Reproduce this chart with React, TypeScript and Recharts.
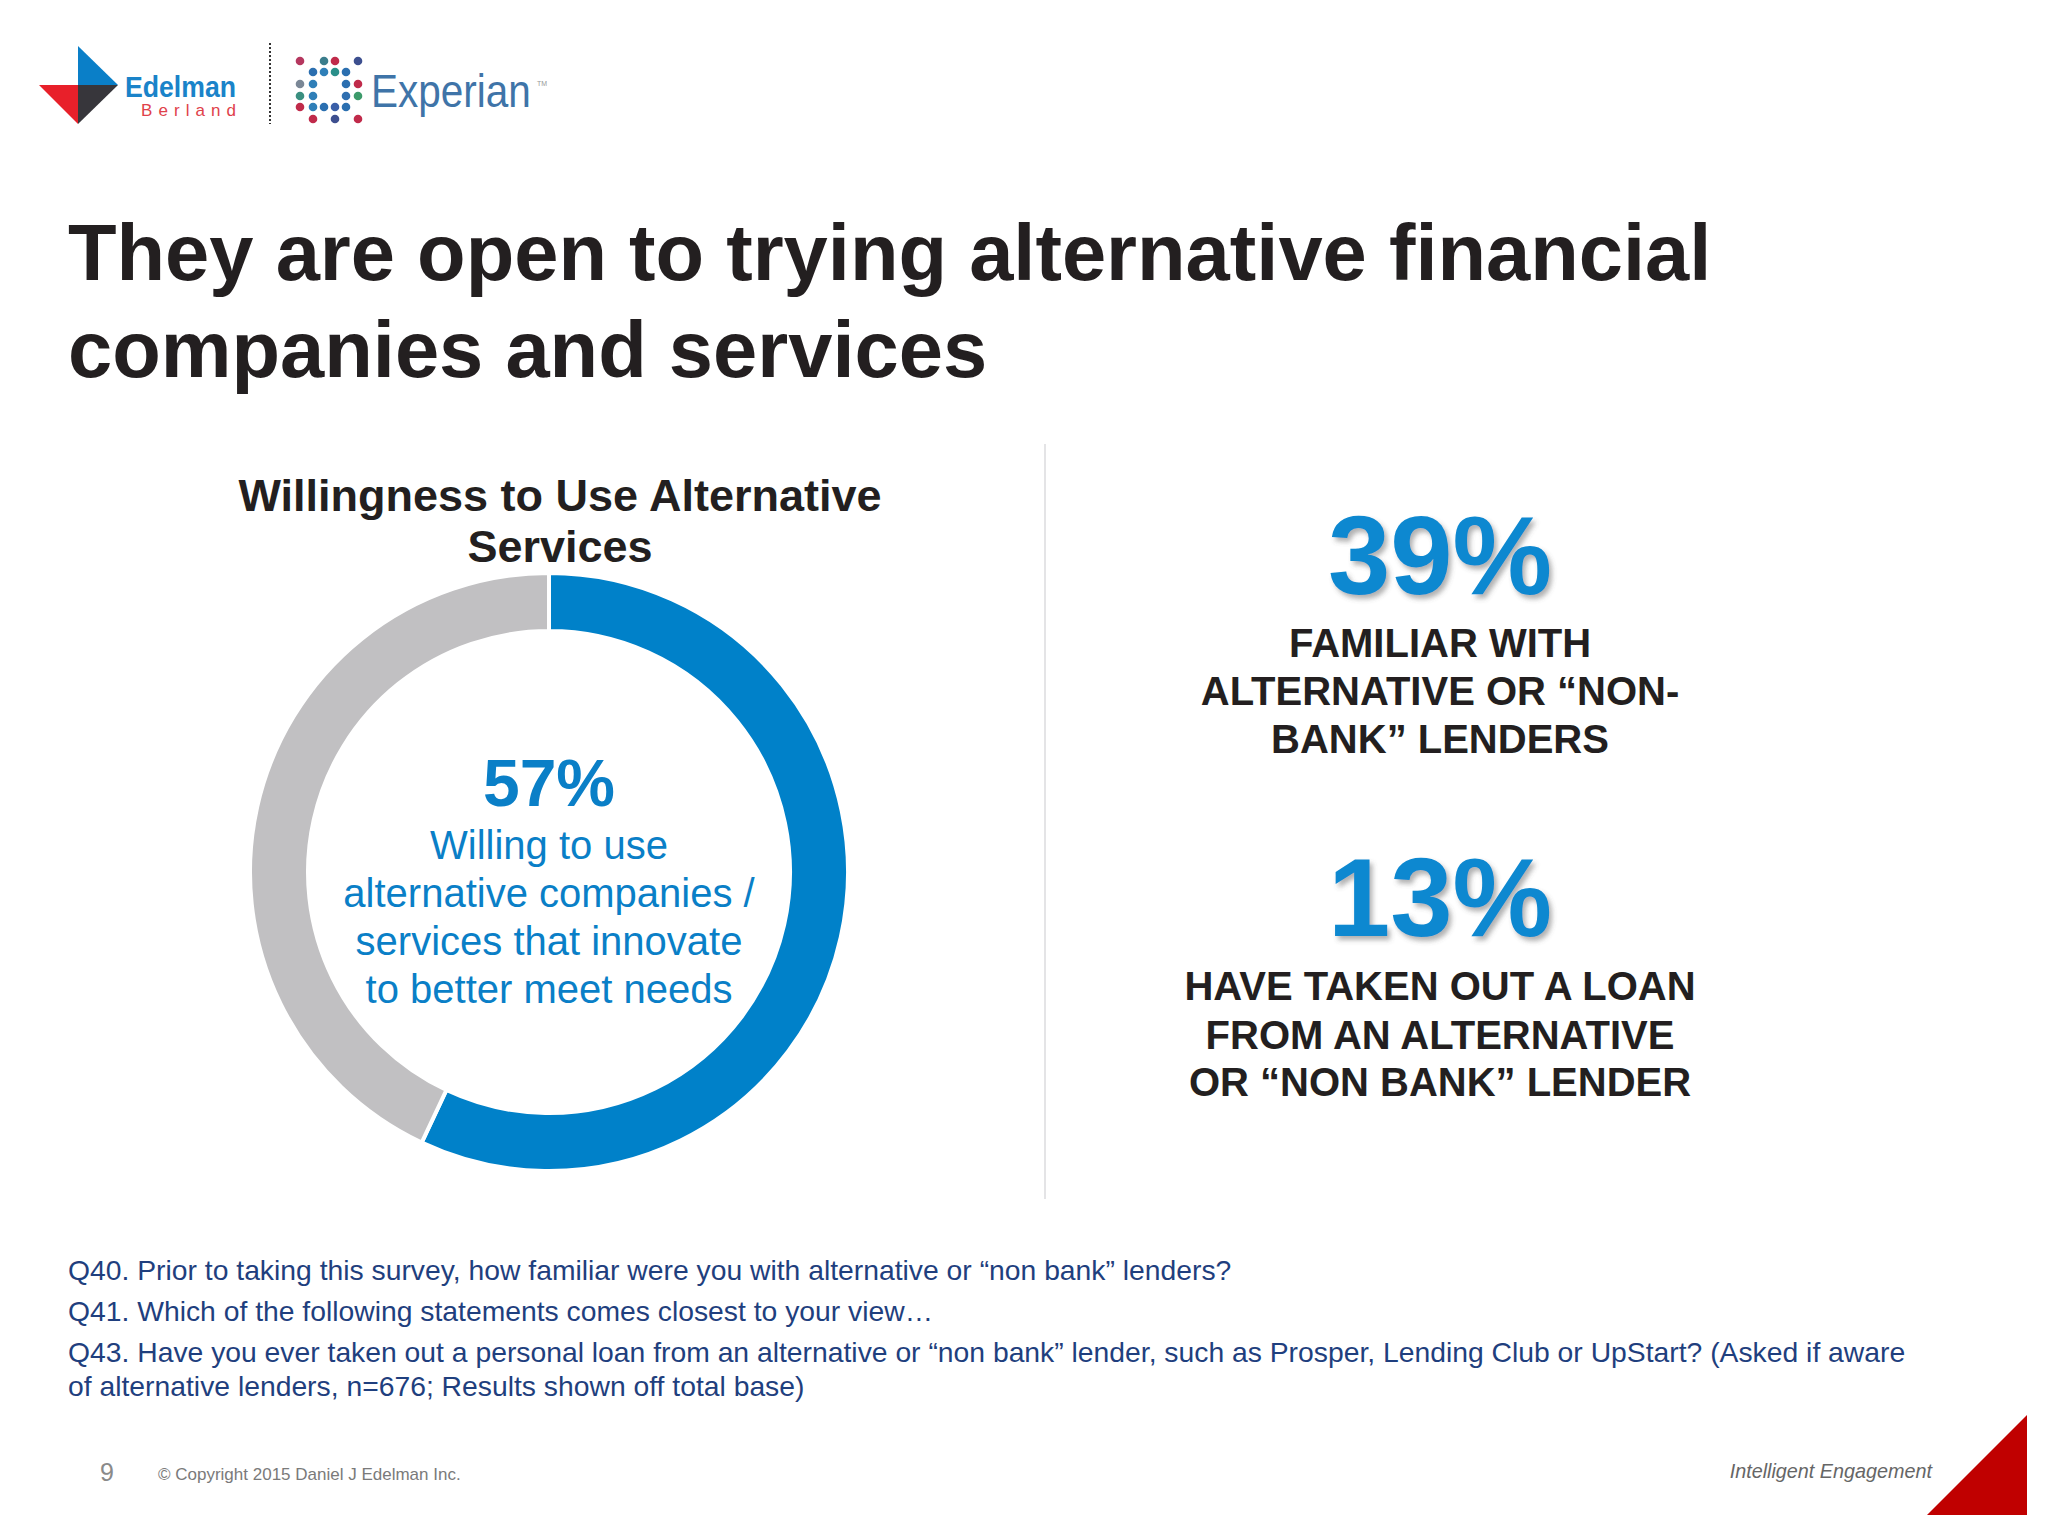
import React from 'react';
import { PieChart, Pie, Cell } from 'recharts';

// ---- data ----
const segmentNames = ['Willing to use alternative services', 'Not willing'];
const segmentValues = [57, 43];
const segmentColors = ['#0081c9', '#c1c0c2'];

const centerValue = '57%';
const centerLines = ['Willing to use', 'alternative companies /', 'services that innovate', 'to better meet needs'];

const statValues = ['39%', '13%'];
const statLines = [
  ['FAMILIAR WITH', 'ALTERNATIVE OR \u201CNON-', 'BANK\u201D LENDERS'],
  ['HAVE TAKEN OUT A LOAN', 'FROM AN ALTERNATIVE', 'OR \u201CNON BANK\u201D LENDER'],
];

const titleLines = ['They are open to trying alternative financial', 'companies and services'];
const chartTitleLines = ['Willingness to Use Alternative', 'Services'];
const footnotes = [
  'Q40. Prior to taking this survey, how familiar were you with alternative or \u201Cnon bank\u201D lenders?',
  'Q41. Which of the following statements comes closest to your view\u2026',
  'Q43. Have you ever taken out a personal loan from an alternative or \u201Cnon bank\u201D lender, such as Prosper, Lending Club or UpStart? (Asked if aware',
  'of alternative lenders, n=676; Results shown off total base)',
];

const pieData = segmentNames.map((name, i) => ({ name, value: segmentValues[i] }));

const FONT = '"Liberation Sans", Arial, Helvetica, sans-serif';

const dotRows: [number, string][][] = [
  [[0, '#b5375f'], [2, '#3a7d8c'], [3, '#c02a4a'], [5, '#3d4f8f']],
  [[1, '#2b6fb0'], [2, '#2f7fb8'], [3, '#2a8f8a'], [4, '#2b6fb0']],
  [[0, '#7a8796'], [1, '#2f7fb8'], [4, '#2b6fb0'], [5, '#c02a4a']],
  [[0, '#3a8f80'], [1, '#2f7fb8'], [4, '#2f6fb0'], [5, '#3c9a6a']],
  [[0, '#c02a4a'], [1, '#2f7fb8'], [2, '#2b6fb0'], [3, '#3a5fa8'], [4, '#2b6fb0']],
  [[1, '#c02a4a'], [3, '#3d4f8f'], [5, '#c02a4a']],
];
const dotCols = [300, 313, 324, 335, 346, 358];
const dotRowY = [61, 72, 84, 96, 107, 119];

const statValueY = [594, 936];
const statLineY = [[657, 705, 753], [1000, 1049, 1096]];
const footnoteY = [1280, 1321, 1362, 1396];

export default function App() {
  return (
    <div style={{ position: 'absolute', left: 0, top: 0, width: 2048, height: 1536, background: '#ffffff', overflow: 'hidden' }}>
      <svg width={2048} height={1536} style={{ position: 'absolute', left: 0, top: 0 }}>
        <defs>
          <filter id="shadow" x="-20%" y="-20%" width="140%" height="140%">
            <feDropShadow dx="3" dy="4" stdDeviation="2.5" floodColor="#555" floodOpacity="0.45" />
          </filter>
        </defs>
        {/* Edelman logo */}
        <polygon points="78,46 118,85 78,85" fill="#0a7fc8" />
        <polygon points="39,85 78,85 78,124" fill="#e8202a" />
        <polygon points="78,85 118,85 78,124" fill="#37363b" />
        <text x={125} y={97} fontFamily={FONT} fontWeight="bold" fontSize={30} fill="#1a83c9" textLength={111} lengthAdjust="spacingAndGlyphs">Edelman</text>
        <text x={141} y={116} fontFamily={FONT} fontSize={17} fill="#e0414a" textLength={95} lengthAdjust="spacing">Berland</text>
        <line x1={270} y1={43} x2={270} y2={124} stroke="#333" strokeWidth={2} strokeDasharray="2 2" />
        {dotRows.map((row, ri) =>
          row.map(([ci, col]) => <circle key={`d${ri}-${ci}`} cx={dotCols[ci]} cy={dotRowY[ri]} r={4.3} fill={col} />)
        )}
        <text transform="translate(371,107) scale(1,1.13)" x={0} y={0} fontFamily={FONT} fontSize={40.5} fill="#3f74a8">Experian</text>
        <text x={537} y={86} fontFamily={FONT} fontSize={7} fill="#999">TM</text>

        {/* Title */}
        {titleLines.map((t, i) => (
          <text key={`t${i}`} x={68} y={280 + i * 97} fontFamily={FONT} fontWeight="bold" fontSize={79.5} fill="#231f20">{t}</text>
        ))}

        {/* chart title */}
        {chartTitleLines.map((t, i) => (
          <text key={`ct${i}`} x={560} y={511 + i * 51} textAnchor="middle" fontFamily={FONT} fontWeight="bold" fontSize={45} fill="#231f20">{t}</text>
        ))}

        {/* divider */}
        <line x1={1045} y1={444} x2={1045} y2={1199} stroke="#e4e4e6" strokeWidth={2} />

        {/* right stats */}
        {statValues.map((v, i) => (
          <g key={`s${i}`}>
            <text x={1440} y={statValueY[i]} textAnchor="middle" fontFamily={FONT} fontWeight="bold" fontSize={112} fill="#0f88d0" filter="url(#shadow)">{v}</text>
            {statLines[i].map((l, j) => (
              <text key={`sl${i}-${j}`} x={1440} y={statLineY[i][j]} textAnchor="middle" fontFamily={FONT} fontWeight="bold" fontSize={40} fill="#231f20">{l}</text>
            ))}
          </g>
        ))}

        {/* footnotes */}
        {footnotes.map((f, i) => (
          <text key={`f${i}`} x={68} y={footnoteY[i]} fontFamily={FONT} fontSize={28.3} fill="#1f3f7e">{f}</text>
        ))}

        {/* footer */}
        <text x={100} y={1481} fontFamily={FONT} fontSize={25} fill="#8a8a8a">9</text>
        <text x={158} y={1480} fontFamily={FONT} fontSize={17} fill="#7a7a7a">© Copyright 2015 Daniel J Edelman Inc.</text>
        <text x={1932} y={1478} textAnchor="end" fontFamily={FONT} fontStyle="italic" fontSize={19.8} fill="#666">Intelligent Engagement</text>
        <polygon points="1927,1515 2027,1415 2027,1515" fill="#c00000" />
      </svg>

      <div style={{ position: 'absolute', left: 199, top: 522 }}>
        <PieChart width={700} height={700} margin={{ top: 0, right: 0, bottom: 0, left: 0 }}>
          <Pie
            data={pieData}
            dataKey="value"
            nameKey="name"
            cx="50%"
            cy="50%"
            innerRadius={241}
            outerRadius={299}
            startAngle={90}
            endAngle={-270}
            stroke="#ffffff"
            strokeWidth={4}
            isAnimationActive={false}
          >
            {pieData.map((d, i) => (
              <Cell key={d.name} fill={segmentColors[i]} />
            ))}
          </Pie>
          <text x={350} y={284} textAnchor="middle" fontFamily={FONT} fontWeight="bold" fontSize={66} fill="#0a7fc7">{centerValue}</text>
          {centerLines.map((l, i) => (
            <text key={`c${i}`} x={350} y={337 + i * 48} textAnchor="middle" fontFamily={FONT} fontSize={40} fill="#0a7fc7">{l}</text>
          ))}
        </PieChart>
      </div>
    </div>
  );
}
